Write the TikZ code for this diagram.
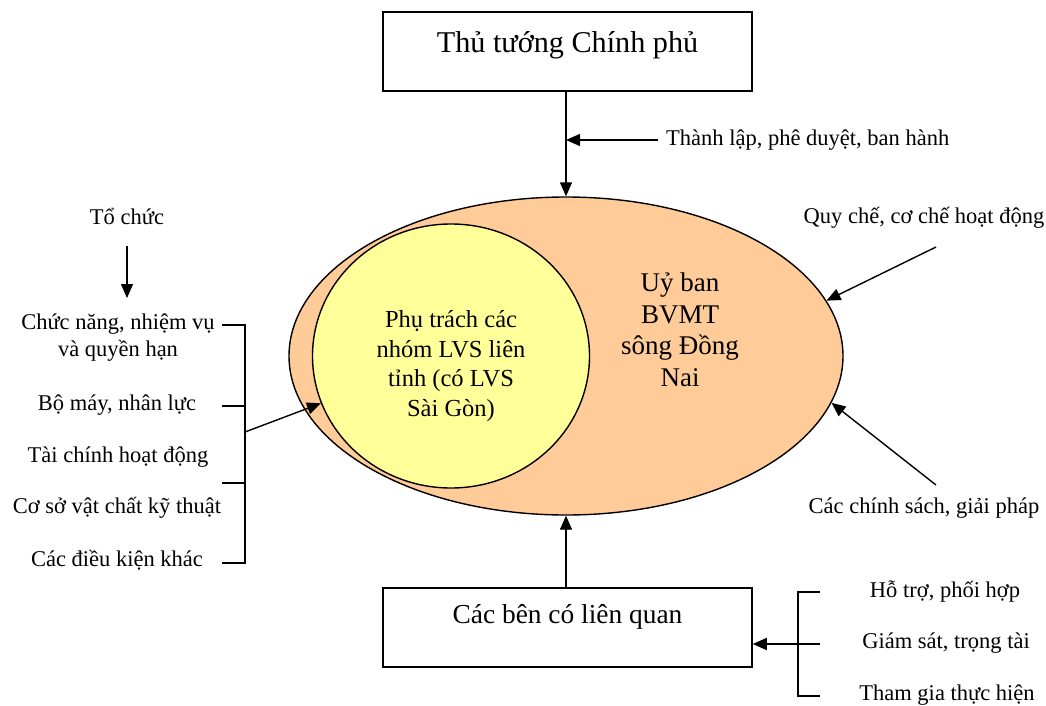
\documentclass[tikz,border=0pt]{standalone}
\usepackage{fontspec}
\setmainfont{Liberation Serif}
\usetikzlibrary{shapes.geometric,arrows.meta}
\definecolor{peach}{HTML}{FFCC99}
\definecolor{paleyellow}{HTML}{FFFF99}
\begin{document}
\begin{tikzpicture}[x=1pt,y=-1pt,
  arr/.style={line width=1.4pt,-{Triangle[length=14pt,width=12pt]}},
  ln/.style={line width=1.4pt},
  box/.style={draw,line width=1.5pt,fill=white,inner sep=0pt},
  lbl/.style={font=\fontsize{22.5}{27}\selectfont,inner sep=0pt,align=center}]
\useasboundingbox[fill=white] (0,0) rectangle (1046,706);

% main shapes
\node[box,minimum width=369pt,minimum height=79pt,font=\fontsize{30.2}{36}\selectfont,
      text height=20pt,text depth=17pt] (pm) at (567.5,51.5) {Thủ tướng Chính phủ};
\node[draw,line width=1.4pt,fill=peach,ellipse,inner sep=0pt,minimum width=554pt,minimum height=318pt] (ub) at (566,356) {};
\node[draw,line width=1.4pt,fill=paleyellow,ellipse,inner sep=0pt,minimum width=277pt,minimum height=264pt] (pt) at (451,356) {};
\node[inner sep=0pt,align=center,font=\fontsize{24.5}{29.5}\selectfont] (ptt) at (451,366) {Phụ trách các\\nhóm LVS liên\\tỉnh (có LVS\\Sài Gòn)};
\node[inner sep=0pt,align=center,font=\fontsize{27}{31.5}\selectfont] (ubt) at (680,330) {Uỷ ban\\BVMT\\sông Đồng\\Nai};
\node[box,minimum width=369pt,minimum height=79pt,font=\fontsize{27.4}{33}\selectfont,
      text height=15pt,text depth=24pt] (cb) at (567.5,627.5) {Các bên có liên quan};

% top
\draw[arr] (pm.south -| ub.north) -- (ub.north);
\node[lbl,anchor=west] (tl) at (666,140) {Thành lập, phê duyệt, ban hành};
\coordinate (tlstart) at (658,140);
\draw[arr] (tlstart) -- (tlstart -| ub.north);

% right
\node[lbl] (qc) at (924,218) {Quy chế, cơ chế hoạt động};
\coordinate (qcs) at (936,247);
\draw[arr] (qcs) -- (ub.12.3);
\node[lbl] (cs) at (924,508) {Các chính sách, giải pháp};
\coordinate (css) at (936,485);
\draw[arr] (css) -- (ub.-10.8);

% bottom
\draw[arr] (cb.north -| ub.south) -- (ub.south);
\coordinate (b1) at (820,592);
\coordinate (b2) at (820,644);
\coordinate (b3) at (820,696);
\draw[ln] (b1) -- ++(-22,0) |- (b3);
\draw[arr] (b2) -- (cb.east |- b2);
\node[lbl] (h1) at (945,592) {Hỗ trợ, phối hợp};
\node[lbl] (h2) at (946,643) {Giám sát, trọng tài};
\node[lbl] (h3) at (947,695) {Tham gia thực hiện};

% left
\node[lbl] (tc) at (127,216) {Tổ chức};
\coordinate (tca) at (127,246);
\coordinate (tcb) at (127,298);
\draw[arr] (tca) -- (tcb);
\node[lbl] (l1) at (118,338) {Chức năng, nhiệm vụ\\và quyền hạn};
\node[lbl] (l2) at (117,405) {Bộ máy, nhân lực};
\node[lbl] (l3) at (118,457) {Tài chính hoạt động};
\node[lbl] (l4) at (117,508) {Cơ sở vật chất kỹ thuật};
\node[lbl] (l5) at (117,560) {Các điều kiện khác};
\coordinate (k1) at (222,325);
\coordinate (k2) at (222,406);
\coordinate (k3) at (222,483);
\coordinate (k4) at (222,563);
\coordinate (km) at (245,432);
\draw[ln] (k1) -- ++(23,0) |- (k4);
\draw[ln] (k2) -- ++(23,0);
\draw[ln] (k3) -- ++(23,0);
\draw[arr] (km) -- (pt.200);
\end{tikzpicture}
\end{document}
